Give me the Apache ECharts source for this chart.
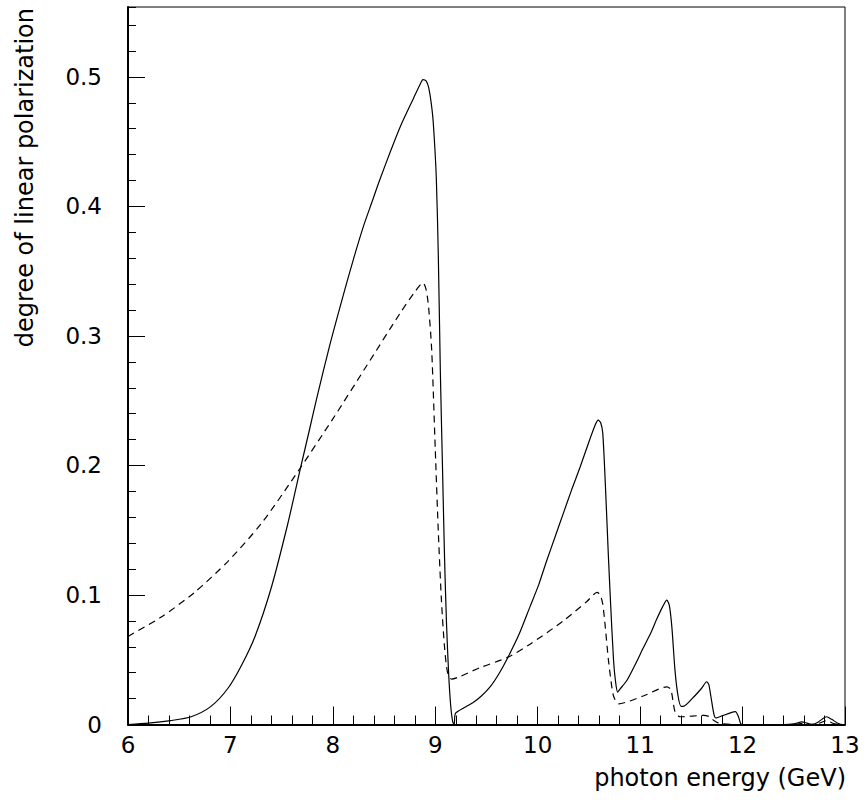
<!DOCTYPE html>
<html><head><meta charset="utf-8">
<script src="https://cdn.jsdelivr.net/npm/echarts@6/dist/echarts.min.js"></script>
<style>html,body{margin:0;padding:0;background:#fff}#c{width:865px;height:802px}</style>
</head><body><div id="c"></div>
<script>
// photon energy (GeV) and degree of linear polarization
const solidX = [6.0, 6.2, 6.416, 6.617, 6.81, 6.976, 7.11, 7.24, 7.40, 7.56, 7.69, 7.77, 7.84, 7.97, 8.10, 8.20, 8.30, 8.38, 8.46, 8.56, 8.66, 8.79, 8.85, 8.88, 8.91, 8.935, 8.96, 8.98, 9.01, 9.03, 9.05, 9.07, 9.09, 9.11, 9.13, 9.15, 9.17, 9.185, 9.19, 9.2, 9.28, 9.37, 9.45, 9.535, 9.62, 9.71, 9.82, 9.925, 10.01, 10.09, 10.17, 10.25, 10.33, 10.415, 10.49, 10.56, 10.59, 10.615, 10.635, 10.66, 10.69, 10.71, 10.74, 10.76, 10.78, 10.8, 10.87, 10.95, 11.03, 11.1, 11.16, 11.22, 11.26, 11.285, 11.31, 11.34, 11.37, 11.40, 11.42, 11.52, 11.6, 11.65, 11.67, 11.69, 11.72, 11.74, 11.81, 11.88, 11.93, 11.96, 11.98, 12.0, 12.4, 12.5, 12.58, 12.63, 12.68, 12.74, 12.82, 12.87, 12.93, 12.98, 13.0];
const solidY = [0, 0.001, 0.003, 0.006, 0.014, 0.028, 0.046, 0.068, 0.106, 0.155, 0.2, 0.227, 0.251, 0.293, 0.331, 0.359, 0.385, 0.403, 0.421, 0.442, 0.462, 0.484, 0.494, 0.498, 0.497, 0.492, 0.480, 0.465, 0.422, 0.36, 0.27, 0.2, 0.13, 0.077, 0.04, 0.015, 0.002, 0.0, 0.006, 0.009, 0.013, 0.017, 0.022, 0.029, 0.039, 0.052, 0.07, 0.091, 0.108, 0.127, 0.145, 0.163, 0.181, 0.199, 0.216, 0.231, 0.235, 0.233, 0.225, 0.186, 0.13, 0.096, 0.05, 0.033, 0.025, 0.027, 0.034, 0.046, 0.059, 0.07, 0.081, 0.091, 0.096, 0.092, 0.075, 0.042, 0.022, 0.014, 0.014, 0.021, 0.028, 0.033, 0.031, 0.022, 0.008, 0.005, 0.007, 0.009, 0.010, 0.006, 0.001, 0, 0, 0.0005, 0.002, 0.001, 0, 0.002, 0.006, 0.004, 0.001, 0, 0];

const dashedX = [6.0, 6.325, 6.65, 6.976, 7.3, 7.63, 8.0, 8.33, 8.66, 8.8, 8.88, 8.91, 8.935, 8.965, 9.0, 9.03, 9.06, 9.09, 9.12, 9.16, 9.24, 9.44, 9.71, 9.925, 10.25, 10.48, 10.58, 10.61, 10.635, 10.66, 10.69, 10.71, 10.74, 10.79, 11.03, 11.26, 11.3, 11.34, 11.39, 11.62, 11.68, 11.72, 11.77, 11.9, 12.5, 12.6, 12.65, 12.75, 12.82, 12.88, 12.95, 13.0];
const dashedY = [0.068, 0.083, 0.102, 0.126, 0.155, 0.192, 0.236, 0.277, 0.318, 0.334, 0.341, 0.336, 0.322, 0.289, 0.212, 0.148, 0.096, 0.06, 0.04, 0.035, 0.037, 0.044, 0.052, 0.062, 0.080, 0.095, 0.102, 0.100, 0.093, 0.075, 0.05, 0.037, 0.022, 0.016, 0.022, 0.029, 0.027, 0.01, 0.006, 0.007, 0.006, 0.003, 0.001, 0, 0, 0.001, 0, 0.001, 0.003, 0.001, 0, 0];

const xTicks = [6, 7, 8, 9, 10, 11, 12, 13];
const yTicks = [0, 0.1, 0.2, 0.3, 0.4, 0.5];
const yTitle = 'degree of linear polarization';
const xTitle = 'photon energy (GeV)';

const FONT = '"DejaVu Sans", sans-serif';
const chart = echarts.init(document.getElementById('c'), null, {renderer: 'svg'});
const pairs = (xs, ys) => xs.map((x, i) => [x, ys[i]]);

chart.setOption({
  animation: false,
  backgroundColor: '#fff',
  grid: {left: 128, right: 20, top: 7, bottom: 77.5, show: true, borderColor: '#000', borderWidth: 1, backgroundColor: 'transparent'},
  xAxis: {
    type: 'value', min: xTicks[0], max: xTicks[xTicks.length - 1], interval: 1,
    axisLine: {show: true, onZero: false, lineStyle: {color: '#000', width: 2}},
    axisTick: {show: true, inside: true, length: 18, lineStyle: {color: '#000', width: 1}},
    minorTick: {show: true, splitNumber: 5, length: 9, lineStyle: {color: '#000', width: 1}},
    splitLine: {show: false},
    axisLabel: {fontSize: 23, color: '#000', fontFamily: FONT, margin: 9,
      formatter: v => xTicks.includes(v) ? String(v) : ''}
  },
  yAxis: [{
    type: 'value', min: 0, max: 0.554, interval: 0.1,
    axisLine: {show: true, onZero: false, lineStyle: {color: '#000', width: 2}},
    axisTick: {show: true, inside: true, length: 17, lineStyle: {color: '#000', width: 1}},
    splitLine: {show: false},
    axisLabel: {fontSize: 23, color: '#000', fontFamily: FONT, margin: 26, showMaxLabel: false,
      formatter: v => { const t = yTicks.find(k => Math.abs(k - v) < 1e-6); return t === undefined ? '' : String(t); }}
  }, {
    type: 'value', min: 0, max: 0.554, interval: 0.02, position: 'left', offset: 0,
    axisLine: {show: false},
    axisTick: {show: true, inside: true, length: 8, lineStyle: {color: '#000', width: 1}},
    splitLine: {show: false},
    axisLabel: {show: false}
  }],
  series: [{
    type: 'line', data: pairs(solidX, solidY), showSymbol: false, symbol: 'none', smooth: 0.25,
    lineStyle: {color: '#000', width: 1.2, type: 'solid'}, clip: true
  }, {
    type: 'line', data: pairs(dashedX, dashedY), showSymbol: false, symbol: 'none', smooth: 0.25,
    lineStyle: {color: '#000', width: 1.2, type: [7, 5]}, clip: true
  }],
  graphic: [{
    type: 'text', x: 25, y: 8, rotation: Math.PI / 2,
    style: {text: yTitle, font: '24px ' + FONT, fill: '#000', align: 'right', textAlign: 'right', verticalAlign: 'middle', textVerticalAlign: 'middle'}
  }, {
    type: 'text', x: 846, y: 778,
    style: {text: xTitle, font: '24px ' + FONT, fill: '#000', align: 'right', textAlign: 'right', verticalAlign: 'middle', textVerticalAlign: 'middle'}
  }]
});
</script>
</body></html>
